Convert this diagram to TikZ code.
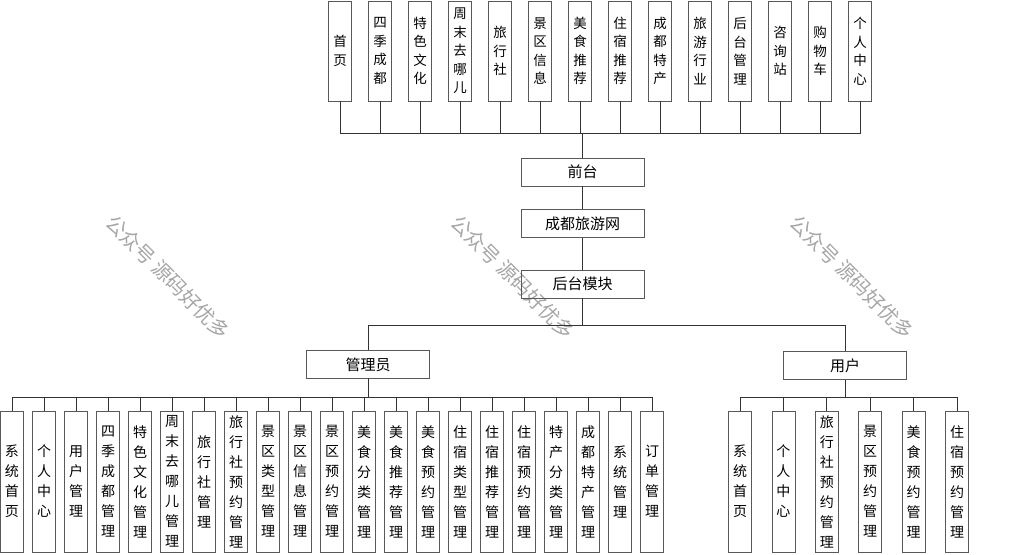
\documentclass[tikz,border=0pt]{standalone}
\usepackage{fontspec}
\setmainfont{Noto Sans CJK SC}
\begin{document}
\begin{tikzpicture}[x=1pt,y=-1pt,
  vbox/.style={draw=black!65,line width=0.8pt,inner sep=0pt,minimum width=23pt,align=center},
  topbox/.style={vbox,minimum height=100pt,font=\fontsize{13.5}{18.5}\selectfont},
  botbox/.style={vbox,minimum height=141pt,font=\fontsize{14}{20}\selectfont},
  hbox/.style={draw=black!65,line width=0.8pt,inner sep=0pt,minimum width=123pt,minimum height=28pt,font=\fontsize{15}{18}\selectfont},
  conn/.style={draw=black!80,line width=0.8pt},
  wm/.style={text=black!35,font=\fontsize{20}{22}\selectfont,rotate=-45}]
\useasboundingbox (0,0) rectangle (1024,554);
% watermarks
\node[wm] (w1) at (168,277) {公众号 源码好优多};
\node[wm] (w2) at (513,277) {公众号 源码好优多};
\node[wm] (w3) at (852,277) {公众号 源码好优多};
% top row
\foreach \txt [count=\i from 0] in {{首\\页},{四\\季\\成\\都},{特\\色\\文\\化},{周\\末\\去\\哪\\儿},{旅\\行\\社},{景\\区\\信\\息},{美\\食\\推\\荐},{住\\宿\\推\\荐},{成\\都\\特\\产},{旅\\游\\行\\业},{后\\台\\管\\理},{咨\\询\\站},{购\\物\\车},{个\\人\\中\\心}}
  \node[topbox] (t\i) at (340+40*\i,51) {\txt};
% middle column
\node[hbox] (qt) at (582.5,172) {前台};
\node[hbox] (wz) at (582.5,223.5) {成都旅游网};
\node[hbox] (hm) at (582.5,284) {后台模块};
\node[hbox] (gly) at (368,364.5) {管理员};
\node[hbox] (yh) at (845,365.5) {用户};
\coordinate (tb) at (582.5,133);
\coordinate (mb) at (582.5,325);
\coordinate (ab) at (368,397);
\coordinate (ub) at (845,397);
\foreach \i in {0,...,13}
  \draw[conn] (t\i.south) |- (tb);
\draw[conn] (tb) -- (qt.north);
\draw[conn] (qt.south) -- (wz.north);
\draw[conn] (wz.south) -- (hm.north);
\draw[conn] (hm.south) -- (mb) -| (gly.north);
\draw[conn] (mb) -| (yh.north);
% admin children
\foreach \txt [count=\i from 0] in {{系\\统\\首\\页},{个\\人\\中\\心},{用\\户\\管\\理},{四\\季\\成\\都\\管\\理},{特\\色\\文\\化\\管\\理},{周\\末\\去\\哪\\儿\\管\\理},{旅\\行\\社\\管\\理},{旅\\行\\社\\预\\约\\管\\理},{景\\区\\类\\型\\管\\理},{景\\区\\信\\息\\管\\理},{景\\区\\预\\约\\管\\理},{美\\食\\分\\类\\管\\理},{美\\食\\推\\荐\\管\\理},{美\\食\\预\\约\\管\\理},{住\\宿\\类\\型\\管\\理},{住\\宿\\推\\荐\\管\\理},{住\\宿\\预\\约\\管\\理},{特\\产\\分\\类\\管\\理},{成\\都\\特\\产\\管\\理},{系\\统\\管\\理},{订\\单\\管\\理}}
{
  \node[botbox] (a\i) at (12+32*\i,481.5) {\txt};
  \draw[conn] (gly.south) -- (ab) -| (a\i.north);
}
% user children
\foreach \txt [count=\i from 0] in {{系\\统\\首\\页},{个\\人\\中\\心},{旅\\行\\社\\预\\约\\管\\理},{景\\区\\预\\约\\管\\理},{美\\食\\预\\约\\管\\理},{住\\宿\\预\\约\\管\\理}}
{
  \node[botbox] (u\i) at (740+43.4*\i,481.5) {\txt};
  \draw[conn] (yh.south) -- (ub) -| (u\i.north);
}
\end{tikzpicture}
\end{document}
